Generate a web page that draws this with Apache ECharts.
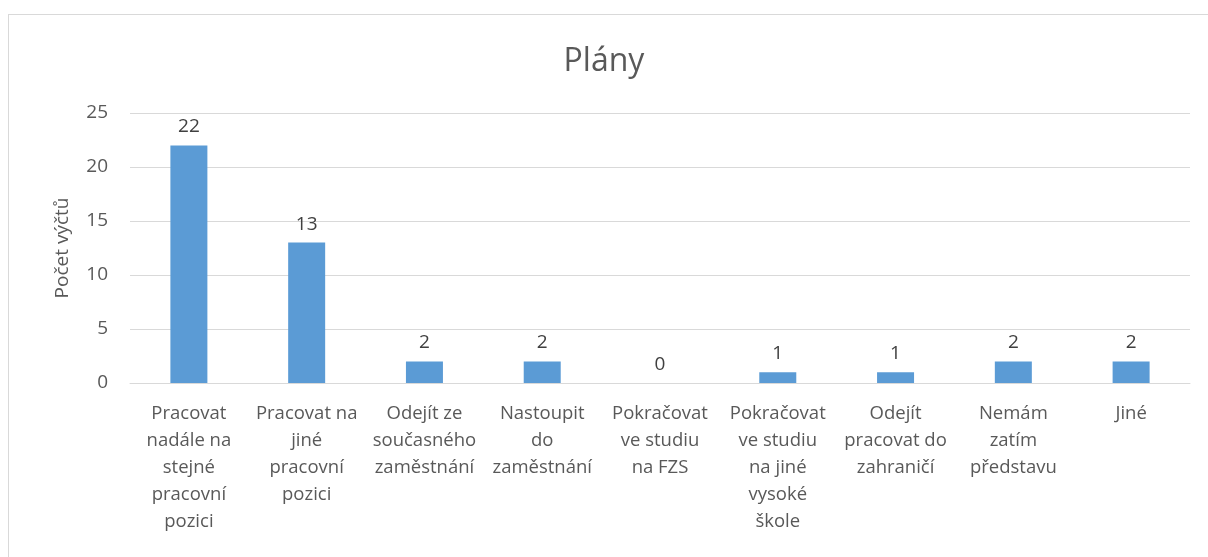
<!DOCTYPE html>
<html>
<head>
<meta charset="utf-8">
<script src="https://cdn.jsdelivr.net/npm/echarts@6/dist/echarts.min.js"></script>
<style>
  html, body { margin: 0; padding: 0; background: #fff; overflow: hidden; }
  #frame { position: absolute; left: 8px; top: 14px; width: 1210px; height: 560px; border: 1px solid #d9d9d9; box-sizing: border-box; }
  #chart { position: absolute; left: 0; top: 0; width: 1208px; height: 557px; }
</style>
</head>
<body>
<div id="frame"></div>
<div id="chart"></div>
<script>
  // data
  const categories = [
    'Pracovat\nnadále na\nstejné\npracovní\npozici',
    'Pracovat na\njiné\npracovní\npozici',
    'Odejít ze\nsoučasného\nzaměstnání',
    'Nastoupit\ndo\nzaměstnání',
    'Pokračovat\nve studiu\nna FZS',
    'Pokračovat\nve studiu\nna jiné\nvysoké\nškole',
    'Odejít\npracovat do\nzahraničí',
    'Nemám\nzatím\npředstavu',
    'Jiné'
  ];
  const counts = [22, 13, 2, 2, 0, 1, 1, 2, 2];
  const yTicks = [0, 5, 10, 15, 20, 25];

  const font = '"Open Sans", "Noto Sans", sans-serif';
  const textColor = '#595959';

  let myChart = echarts.init(document.getElementById('chart'));
  myChart.setOption({
    animation: false,
    title: {
      text: 'Plány',
      left: 'center',
      top: 41,
      textStyle: { fontFamily: font, fontSize: 32, fontWeight: 'normal', color: textColor }
    },
    grid: { left: 130, right: 18, top: 113, bottom: 174 },
    xAxis: {
      type: 'category',
      data: categories,
      axisLine: { lineStyle: { color: '#d9d9d9', width: 1 } },
      axisTick: { show: false },
      axisLabel: {
        interval: 0,
        margin: 17,
        fontFamily: font,
        fontSize: 18.5,
        lineHeight: 27,
        color: textColor
      }
    },
    yAxis: {
      type: 'value',
      min: yTicks[0],
      max: yTicks[yTicks.length - 1],
      interval: 5,
      name: 'Počet výčtů',
      nameLocation: 'middle',
      nameGap: 58,
      nameTextStyle: { fontFamily: font, fontSize: 19, color: textColor },
      axisLine: { show: false },
      axisTick: { show: false },
      splitLine: { lineStyle: { color: '#d9d9d9', width: 1 } },
      axisLabel: { fontFamily: font, fontSize: 19, color: textColor, margin: 22 }
    },
    series: [{
      name: 'Plány',
      type: 'bar',
      data: counts,
      barWidth: 37,
      itemStyle: { color: '#5b9bd5' },
      label: {
        show: true,
        position: 'top',
        distance: 9,
        fontFamily: font,
        fontSize: 19,
        color: '#404040'
      }
    }]
  });
</script>
</body>
</html>
